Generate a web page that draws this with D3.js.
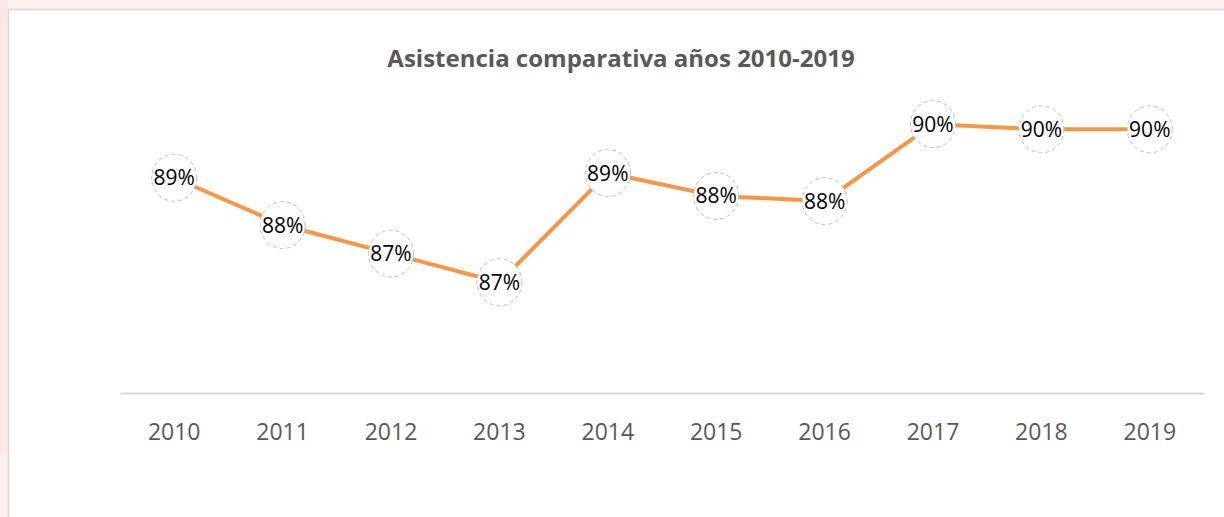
<!DOCTYPE html>
<html>
<head>
<meta charset="utf-8">
<script src="https://cdn.jsdelivr.net/npm/d3@7"></script>
<style>
  html, body { margin: 0; padding: 0; background: #fdeeee; overflow: hidden; }
  svg { display: block; }
</style>
</head>
<body>
<div id="chart"></div>
<script>
var years = ['2010', '2011', '2012', '2013', '2014', '2015', '2016', '2017', '2018', '2019'],
    attendance = [0.8864, 0.8773, 0.8718, 0.8663, 0.8873, 0.8829, 0.8819, 0.8967, 0.8957, 0.8957],
    title = 'Asistencia comparativa años 2010-2019';

var width = 1224,
    height = 517,
    margin = { left: 120, right: 20, top: 55, bottom: 124 };

var svg = d3.select('#chart')
    .append('svg')
    .attr('width', width)
    .attr('height', height);

// pink page behind the chart frame
svg.append('rect')
    .attr('x', 0).attr('y', 0)
    .attr('width', width).attr('height', height)
    .attr('fill', '#fdf0ee');
svg.append('rect')
    .attr('x', 0).attr('y', 0)
    .attr('width', 8).attr('height', 455)
    .attr('fill', '#fde6e6');

// chart frame
svg.append('rect')
    .attr('x', 8.5).attr('y', 9.5)
    .attr('width', width + 20).attr('height', height + 20)
    .attr('fill', '#fff')
    .attr('stroke', '#d9d9d9')
    .attr('stroke-width', 1.5);

svg.append('text')
    .attr('x', 621)
    .attr('y', 67)
    .attr('text-anchor', 'middle')
    .attr('font-family', '"Open Sans", sans-serif')
    .attr('font-weight', 'bold')
    .attr('font-size', 24)
    .attr('fill', '#595959')
    .text(title);

var x = d3.scaleBand()
    .domain(years)
    .range([margin.left, 1204]);

var y = d3.scaleLinear()
    .domain([0.845, 0.91])
    .range([393, 55]);

var xAxis = svg.append('g')
    .attr('transform', 'translate(0,393)')
    .call(d3.axisBottom(x).tickSize(0).tickPadding(31));

xAxis.select('.domain')
    .attr('stroke', '#d9d9d9')
    .attr('stroke-width', 2);

xAxis.selectAll('text')
    .attr('font-family', '"Open Sans", sans-serif')
    .attr('font-size', 23)
    .attr('fill', '#595959');

var line = d3.line()
    .x(function(d, i) { return x(years[i]) + x.bandwidth() / 2; })
    .y(function(d) { return y(d); });

svg.append('path')
    .datum(attendance)
    .attr('fill', 'none')
    .attr('stroke', '#f79646')
    .attr('stroke-width', 4)
    .attr('d', line);

var labels = svg.selectAll('.label')
    .data(attendance)
    .enter()
    .append('g')
    .attr('class', 'label')
    .attr('transform', function(d, i) {
        return 'translate(' + (x(years[i]) + x.bandwidth() / 2) + ',' + y(d) + ')';
    });

labels.append('ellipse')
    .attr('rx', 22.5)
    .attr('ry', 23.5)
    .attr('fill', '#fff')
    .attr('stroke', '#bfbfbf')
    .attr('stroke-width', 1)
    .attr('stroke-dasharray', '4,3');

labels.append('text')
    .attr('text-anchor', 'middle')
    .attr('dy', '0.36em')
    .attr('font-family', '"Open Sans", sans-serif')
    .attr('font-size', 21)
    .attr('fill', '#000')
    .text(function(d) { return d3.format('.0%')(d); });
</script>
</body>
</html>
